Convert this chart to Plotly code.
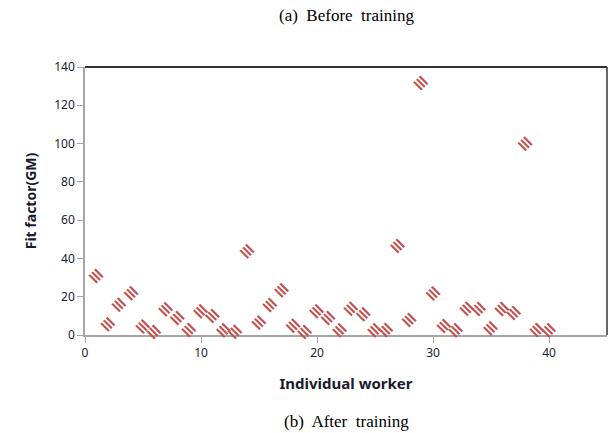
import plotly.graph_objects as go

workers = list(range(1, 41))
fit_factor = [31, 6, 16, 22, 5, 2, 14, 9, 3, 13,
              10, 3, 2, 44, 7, 16, 24, 5, 2, 13,
              9, 3, 14, 11, 3, 3, 47, 8, 132, 22,
              5, 3, 14, 14, 4, 14, 12, 100, 3, 3]
x_ticks = [0, 10, 20, 30, 40]
y_ticks = [0, 20, 40, 60, 80, 100, 120, 140]

RED = "#C0504D"
fig = go.Figure()
fig.add_trace(go.Scatter(x=workers, y=fit_factor, mode="markers",
                         marker=dict(symbol="diamond", size=1, color="rgba(0,0,0,0)"),
                         showlegend=False, hoverinfo="x+y"))
for xv, yv in zip(workers, fit_factor):
    fig.add_annotation(x=xv, y=yv, xref="x", yref="y", text="<b>≡</b>", showarrow=False,
                       textangle=45, font=dict(family="DejaVu Sans", size=18, color=RED),
                       xanchor="center", yanchor="middle")

fig.update_layout(
    width=609, height=433,
    margin=dict(l=85, r=2, t=67, b=98, autoexpand=False),
    paper_bgcolor="white", plot_bgcolor="white",
    xaxis=dict(range=[0, 45], tickvals=x_ticks, showline=True, linecolor="#A6A6A6",
               linewidth=1.5, ticks="outside", tickcolor="#A6A6A6", ticklen=6,
               showgrid=False, zeroline=False, mirror=False,
               tickfont=dict(family="Noto Sans", size=12, color="#1a1a2e"),
               title=dict(text="<b>Individual worker</b>", standoff=18,
                          font=dict(family="Noto Sans", size=15, color="#1a1a2e"))),
    yaxis=dict(range=[0, 140], tickvals=y_ticks, showline=True, linecolor="#A6A6A6",
               linewidth=1.5, ticks="outside", tickcolor="#A6A6A6", ticklen=6,
               showgrid=False, zeroline=False,
               tickfont=dict(family="Noto Sans", size=12, color="#1a1a2e"),
               title=dict(text="<b>Fit factor(GM)</b>", standoff=14,
                          font=dict(family="Noto Sans", size=14, color="#1a1a2e"))),
)
# top and right border of the chart box
fig.add_shape(type="line", xref="paper", yref="paper", x0=0, x1=1, y0=1, y1=1,
              line=dict(color="#333333", width=2))
fig.add_shape(type="line", xref="paper", yref="paper", x0=1, x1=1, y0=0, y1=1,
              line=dict(color="#333333", width=1.5))

fig.add_annotation(text="(a)  Before  training", xref="paper", yref="paper",
                   x=0.5, y=1, yshift=52, showarrow=False, xanchor="center", yanchor="middle",
                   font=dict(family="Liberation Serif", size=17, color="black"))
fig.add_annotation(text="(b)  After  training", xref="paper", yref="paper",
                   x=0.5, y=0, yshift=-86, showarrow=False, xanchor="center", yanchor="middle",
                   font=dict(family="Liberation Serif", size=17, color="black"))

fig.write_html("out.html", config={"displayModeBar": False},
               post_script="document.body.style.margin='0';document.body.style.overflow='hidden';")
